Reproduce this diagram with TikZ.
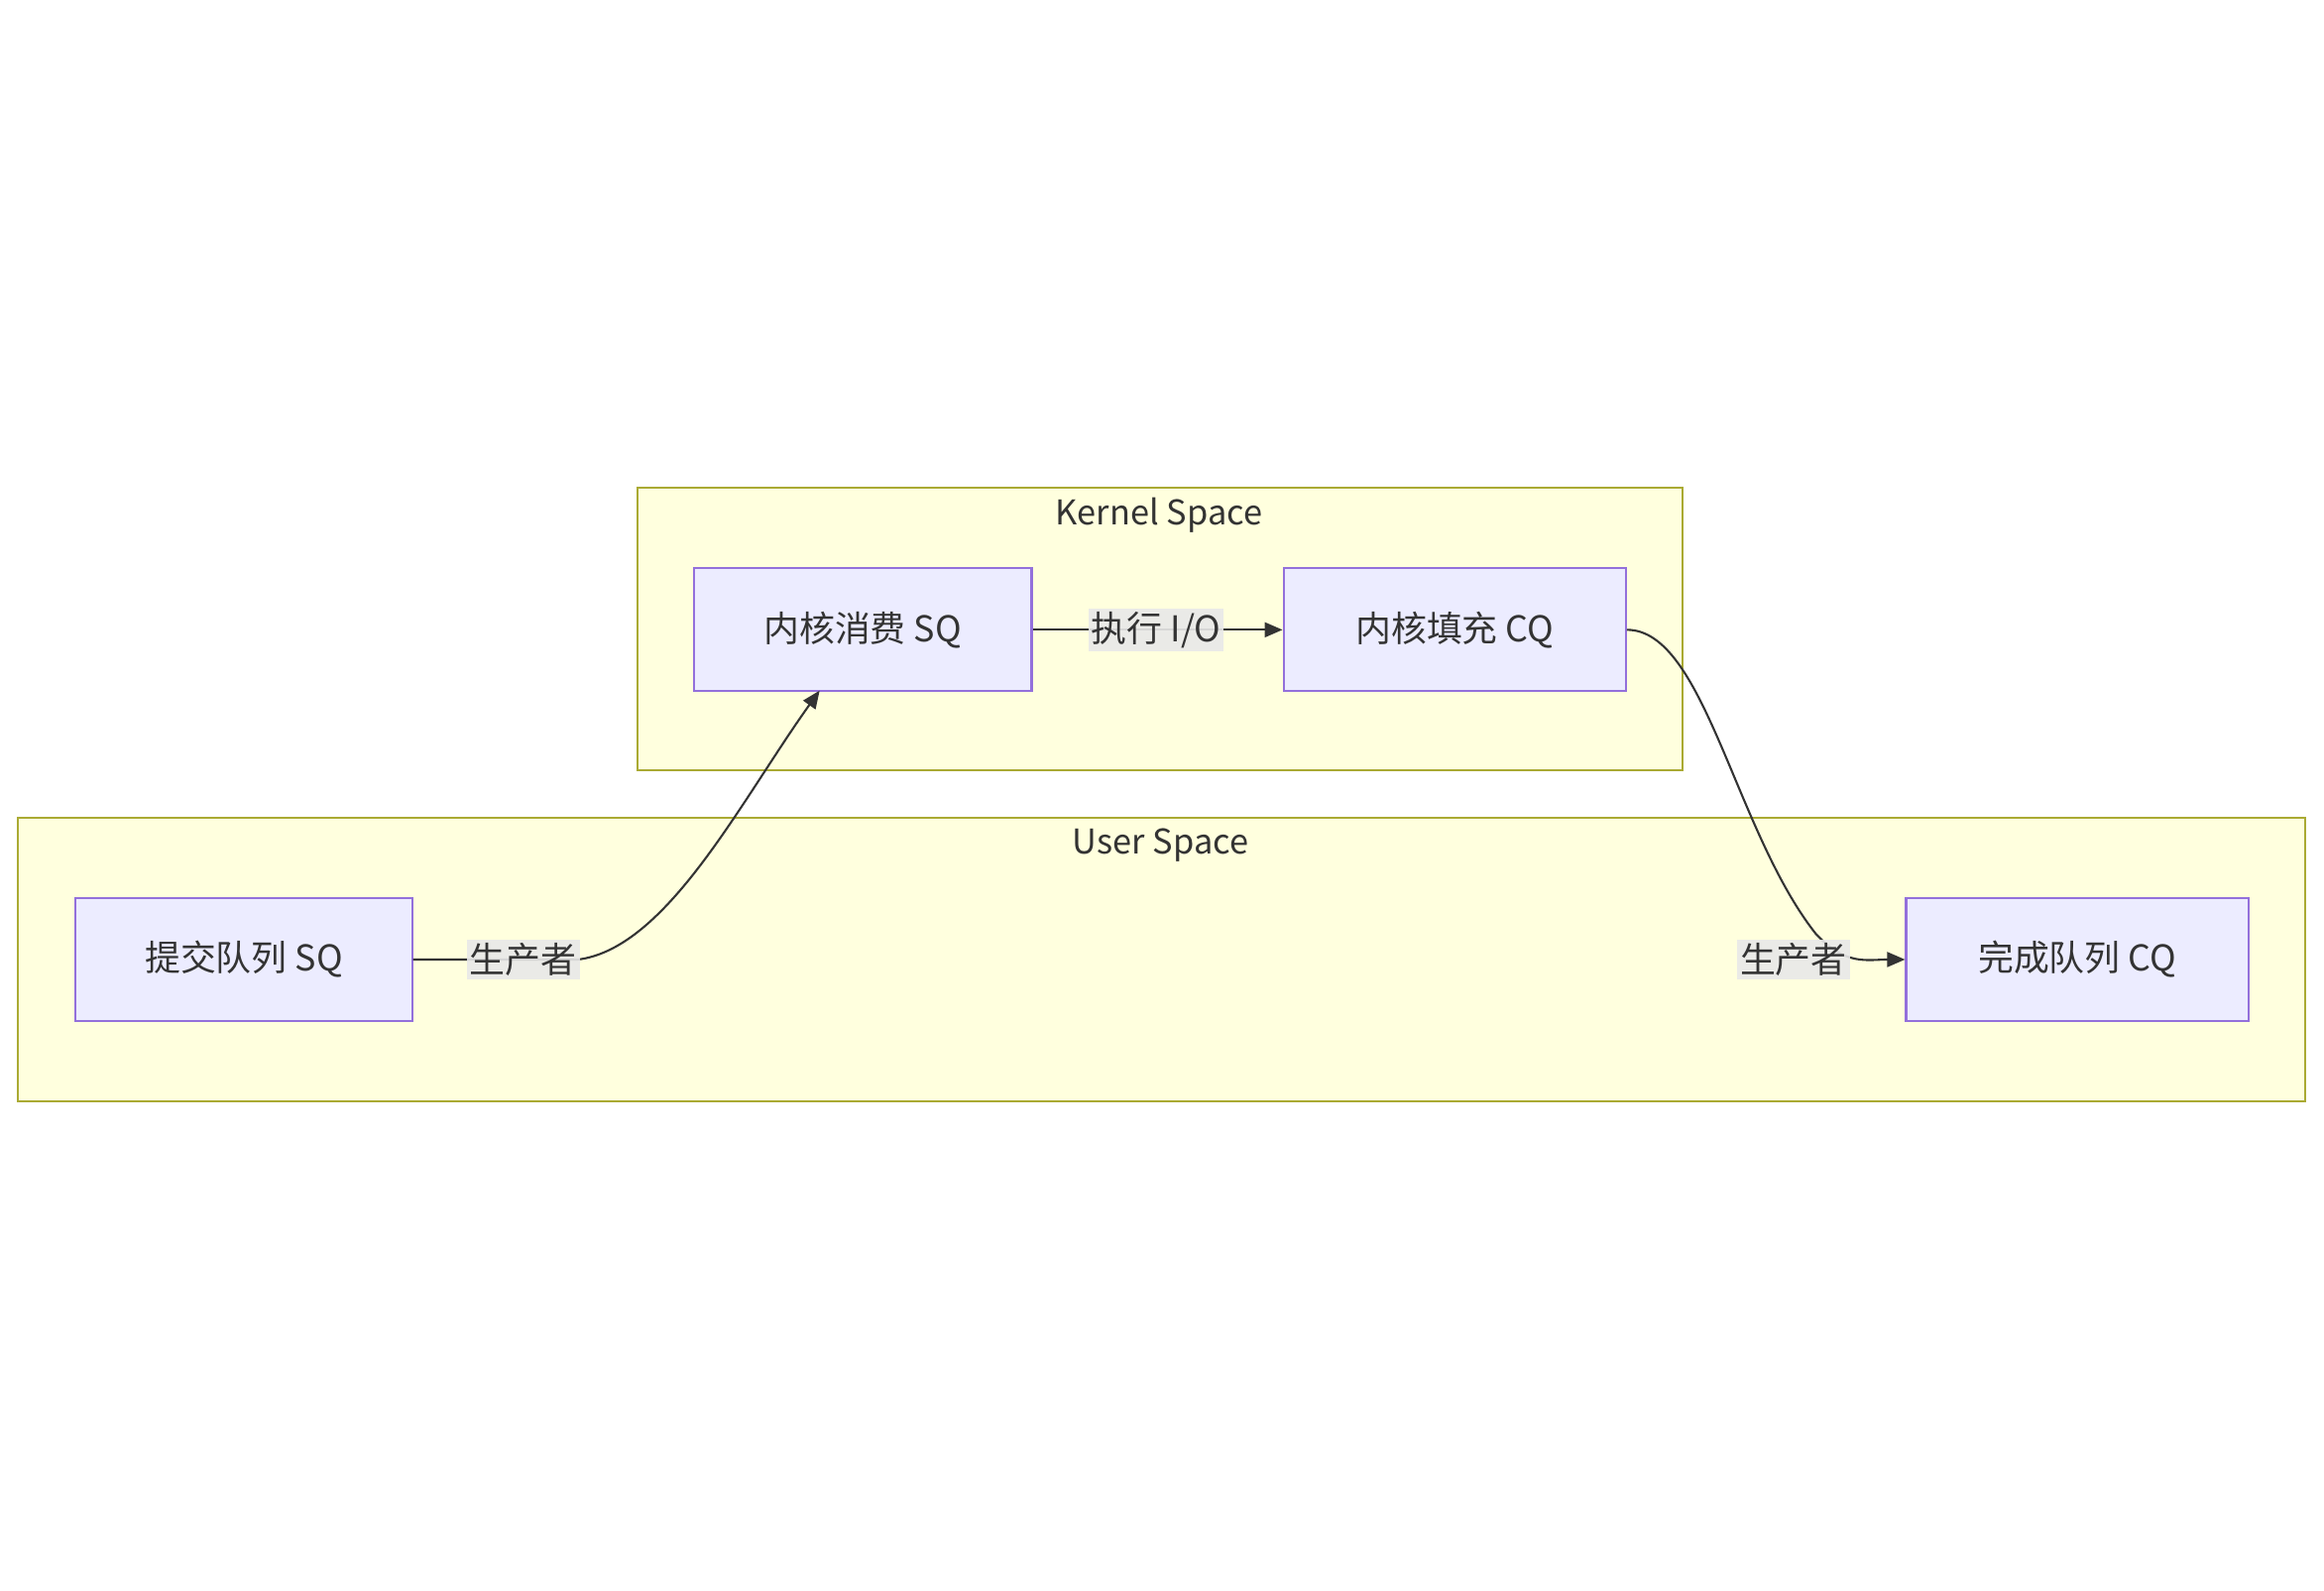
\documentclass[tikz,border=0pt]{standalone}
\usepackage{fontspec}
\setmainfont{Noto Sans CJK SC}
\usetikzlibrary{arrows.meta}
\definecolor{grp}{HTML}{FFFFDE}
\definecolor{grpb}{HTML}{AAAA33}
\definecolor{nd}{HTML}{ECECFF}
\definecolor{ndb}{HTML}{9370DB}
\definecolor{lbl}{HTML}{E8E8E8}
\definecolor{ln}{HTML}{333333}
\tikzset{
 grpbox/.style={draw=grpb,fill=grp,line width=0.7pt},
 nodebox/.style={draw=ndb,fill=nd,line width=0.7pt,minimum width=114pt,minimum height=41.5pt,inner sep=0pt,font=\fontsize{12}{14}\selectfont,text=ln},
 elabel/.style={fill=lbl,fill opacity=0.9,text opacity=1,inner sep=1pt,font=\fontsize{12}{14}\selectfont,text=ln},
 conn/.style={draw=ln,line width=0.7pt,-{Triangle[length=6pt,width=5pt]}},
 ttl/.style={font=\fontsize{11.5}{14}\selectfont,text=ln}
}
\begin{document}
\begin{tikzpicture}[x=0.5pt,y=-0.5pt]
\useasboundingbox (0,0) rectangle (1568,1073);
\draw[grpbox] (430,329) rectangle (1135,520);
\node[ttl] (kt) at (782,348) {Kernel Space};
\draw[grpbox] (12,552) rectangle (1555,743);
\node[ttl] (ut) at (783,570) {User Space};
\node[nodebox,minimum width=114pt] (kc) at (582,425) {内核消费 SQ};
\node[nodebox,minimum width=115.5pt] (kf) at (981.5,425) {内核填充 CQ};
\node[nodebox,minimum width=113.5pt] (sq) at (164.5,647.5) {提交队列 SQ};
\node[nodebox,minimum width=115.5pt] (cq) at (1401.5,647.5) {完成队列 CQ};
\coordinate (k1) at (553,466);
\draw[conn] (sq.east) -- (390,647.5) .. controls (450,640) and (500,540) .. (k1);
\node[elabel] (l1) at (353,647.5) {生产者};
\draw[conn] (kc.east) -- (kf.west);
\node[elabel] (l2) at (780,425) {执行 I/O};
\draw[conn] (kf.east) .. controls (1150,425) and (1170,560) .. (1225,630) .. controls (1245,652) and (1260,647.5) .. (cq.west);
\node[elabel] (l3) at (1210,647.5) {生产者};
\end{tikzpicture}
\end{document}
